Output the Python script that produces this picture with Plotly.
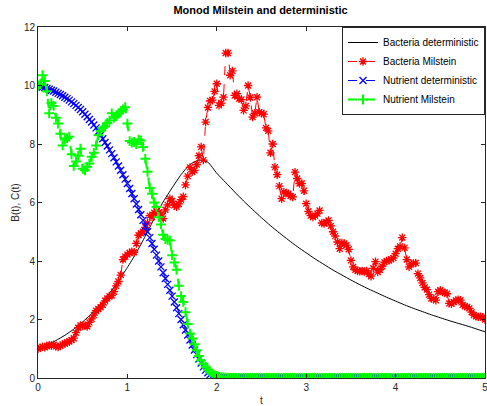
import plotly.graph_objects as go

# ---------------- data ----------------
dt = 0.025

# deterministic bacteria, sampled every 0.1
t_det = [round(i * 0.1, 1) for i in range(51)]
bact_det = [
    1.00, 1.13, 1.28, 1.46, 1.67, 1.92, 2.20, 2.52, 2.90, 3.32,
    3.78, 4.28, 4.85, 5.45, 6.02, 6.50, 6.95, 7.30, 7.45, 7.38,
    7.00, 6.68, 6.36, 6.05, 5.76, 5.48, 5.21, 4.96, 4.72, 4.49,
    4.28, 4.07, 3.88, 3.69, 3.52, 3.35, 3.19, 3.04, 2.90, 2.76,
    2.63, 2.50, 2.38, 2.27, 2.16, 2.06, 1.96, 1.87, 1.78, 1.68,
    1.58,
]

bact_mil = [
    1.00, 1.03, 1.07, 1.05,
    1.10, 1.12, 1.11, 1.14,
    1.08, 1.06, 1.10, 1.15,
    1.18, 1.22, 1.25, 1.30,
    1.36, 1.55, 1.72, 1.80,
    1.78, 1.80, 1.76, 1.90,
    2.02, 2.15, 2.30, 2.36,
    2.42, 2.50, 2.64, 2.72,
    2.80, 2.82, 2.95, 3.15,
    3.30, 3.52, 4.05, 4.15,
    4.22, 4.28, 4.32, 4.30,
    4.60, 4.88, 4.95, 5.00,
    5.15, 5.30, 5.55, 5.50,
    5.65, 5.70, 5.66, 5.60,
    5.45, 5.75, 5.92, 6.13,
    6.05, 5.90, 5.85, 5.95,
    6.10, 6.20, 6.60, 6.90,
    7.20, 7.05, 7.10, 7.30,
    7.60, 7.90, 7.45, 8.75,
    9.25, 9.47, 9.50, 9.80,
    10.06, 9.32, 9.40, 9.60,
    11.11, 11.11, 10.35, 10.50,
    9.66, 9.72, 9.55, 9.52,
    9.15, 9.30, 10.00, 9.59,
    8.92, 9.05, 9.60, 9.09,
    9.05, 9.02, 8.55, 8.45,
    7.70, 8.00, 7.21, 6.95,
    6.56, 6.13, 6.36, 6.32,
    6.30, 6.22, 6.19, 7.04,
    6.82, 6.65, 6.65, 6.40,
    5.96, 5.70, 5.55, 5.50,
    5.55, 5.62, 5.73, 5.30,
    5.28, 5.33, 5.39, 5.20,
    5.00, 4.85, 4.65, 4.42,
    4.62, 4.60, 4.54, 4.40,
    4.02, 3.80, 3.70, 3.66,
    3.65, 3.66, 3.64, 3.66,
    3.55, 3.48, 3.75, 3.98,
    3.62, 3.70, 3.82, 3.96,
    4.00, 4.02, 4.06, 4.10,
    4.25, 4.42, 4.50, 4.80,
    4.45, 4.05, 3.80, 3.90,
    3.92, 3.93, 3.57, 3.42,
    3.25, 3.10, 3.02, 2.85,
    2.72, 2.70, 2.66, 2.95,
    3.00, 2.94, 2.92, 2.88,
    2.55, 2.54, 2.60, 2.65,
    2.68, 2.66, 2.50, 2.45,
    2.43, 2.38, 2.25, 2.15,
    2.11, 2.09, 2.10, 2.08,
    2.00,
]

nut_det_head = [
    10.00, 9.98, 9.95, 9.93,
    9.90, 9.87, 9.84, 9.81,
    9.77, 9.73, 9.69, 9.65,
    9.60, 9.55, 9.50, 9.44,
    9.38, 9.32, 9.25, 9.18,
    9.10, 9.02, 8.93, 8.84,
    8.75, 8.65, 8.55, 8.43,
    8.30, 8.18, 8.05, 7.93,
    7.80, 7.67, 7.53, 7.39,
    7.25, 7.10, 6.95, 6.80,
    6.65, 6.48, 6.31, 6.13,
    5.95, 5.76, 5.58, 5.39,
    5.20, 5.00, 4.80, 4.60,
    4.40, 4.20, 4.00, 3.80,
    3.60, 3.40, 3.20, 3.00,
    2.80, 2.60, 2.40, 2.20,
    2.00, 1.82, 1.64, 1.47,
    1.30, 1.13, 0.96, 0.80,
    0.65, 0.51, 0.38, 0.27,
    0.18, 0.11, 0.06, 0.03,
    0.02, 0.01,
]

nut_mil_head = [
    10.00, 10.05, 10.35, 10.15,
    9.80, 9.05, 9.40, 9.30,
    8.90, 8.70, 8.35, 7.95,
    8.15, 8.20, 8.25, 7.65,
    7.25, 7.40, 7.60, 7.84,
    7.15, 7.10, 7.22, 7.33,
    7.56, 7.70, 7.95, 8.30,
    8.45, 8.55, 8.60, 8.72,
    8.80, 9.05, 8.90, 8.95,
    9.05, 9.12, 9.18, 9.26,
    8.70, 8.10, 8.05, 8.07,
    8.00, 8.15, 8.12, 7.90,
    7.50, 7.05, 6.50, 6.30,
    6.00, 5.85, 5.50, 5.25,
    4.90, 4.75, 4.72, 4.70,
    4.20, 3.95, 3.70, 3.15,
    2.80, 2.60, 2.25, 1.85,
    1.52, 1.35, 1.15, 0.95,
    0.75, 0.60, 0.48, 0.38,
    0.28, 0.20, 0.14, 0.10,
    0.07, 0.05, 0.03, 0.02,
    0.01,
]

n = len(bact_mil)
t_sto = [round(i * dt, 3) for i in range(n)]
nut_det = nut_det_head + [0.0] * (n - len(nut_det_head))
nut_mil = nut_mil_head + [0.0] * (n - len(nut_mil_head))

x_ticks = [0, 1, 2, 3, 4, 5]
y_ticks = [0, 2, 4, 6, 8, 10, 12]

FONT = "Liberation Sans, Arial, sans-serif"

# ---------------- figure ----------------
fig = go.Figure()
fig.add_trace(go.Scatter(
    x=t_det, y=bact_det, mode="lines", name="Bacteria deterministic",
    line=dict(color="black", width=1, shape="spline", smoothing=0.5)))
fig.add_trace(go.Scatter(
    x=t_sto, y=bact_mil, mode="lines+markers", name="Bacteria Milstein",
    line=dict(color="red", width=1, dash="dash"),
    marker=dict(symbol="asterisk-open", size=7, color="red",
                line=dict(color="red", width=1.3))))
fig.add_trace(go.Scatter(
    x=t_sto, y=nut_det, mode="lines+markers", name="Nutrient deterministic",
    line=dict(color="blue", width=1, dash="dash"),
    marker=dict(symbol="x-thin-open", size=7, color="blue",
                line=dict(color="blue", width=1.3))))
fig.add_trace(go.Scatter(
    x=t_sto, y=nut_mil, mode="lines+markers", name="Nutrient Milstein",
    line=dict(color="#00ff00", width=2, dash="dash"),
    marker=dict(symbol="cross-thin-open", size=7, color="#00ff00",
                line=dict(color="#00ff00", width=2))))

axis_common = dict(
    showline=True, linecolor="#262626", linewidth=1, mirror="ticks",
    ticks="inside", ticklen=4, tickcolor="#262626",
    showgrid=False, zeroline=False, ticklabeloverflow="allow",
    tickfont=dict(family=FONT, size=10, color="#262626"),
)
fig.update_xaxes(range=[0, 5], tickvals=x_ticks, ticktext=[str(v) for v in x_ticks],
                 title=dict(text="t", standoff=4,
                            font=dict(family=FONT, size=10, color="#262626")),
                 **axis_common)
fig.update_yaxes(range=[0, 12], tickvals=y_ticks, ticktext=[str(v) for v in y_ticks],
                 title=dict(text="B(t), C(t)", standoff=2,
                            font=dict(family=FONT, size=10, color="#262626")),
                 **axis_common)

fig.update_layout(
    width=487, height=406,
    margin=dict(l=38, r=2, t=27, b=28, autoexpand=False),
    paper_bgcolor="white", plot_bgcolor="white",
    font=dict(family=FONT, size=10, color="#262626"),
    title=dict(text="<b>Monod Milstein and deterministic</b>", x=0.535, xanchor="center",
               y=1 - 10 / 406, yanchor="middle",
               font=dict(family=FONT, size=11, color="black")),
    showlegend=True,
    legend=dict(x=1, xanchor="right", y=1, yanchor="top",
                bgcolor="white", bordercolor="#262626", borderwidth=1,
                font=dict(family=FONT, size=10, color="black"),
                tracegroupgap=0, itemwidth=30),
)

fig.write_html("out.html")
